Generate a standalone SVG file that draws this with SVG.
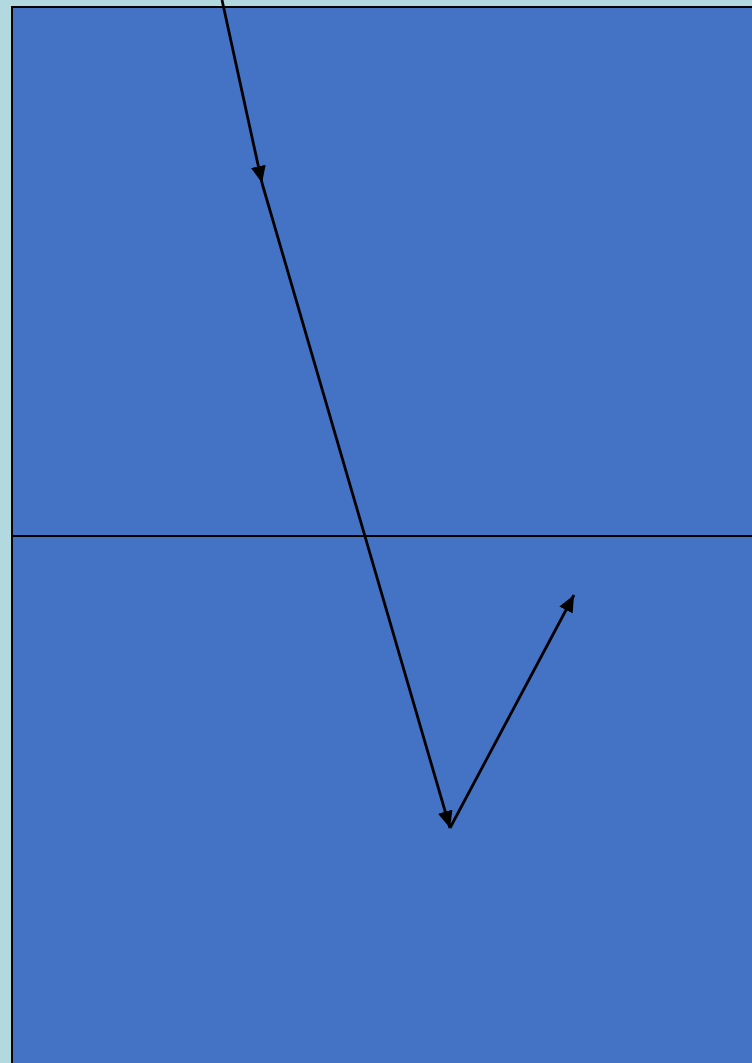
<svg xmlns="http://www.w3.org/2000/svg" width="752" height="1063" viewBox="0 0 752 1063">
<defs>
<marker id="ah2" viewBox="0 0 17 15" refX="17" refY="7.5" markerWidth="17" markerHeight="15" orient="auto" markerUnits="userSpaceOnUse">
<path d="M0,0 L17,7.5 L0,15 z" fill="#000"/>
</marker>
</defs>
<rect x="0" y="0" width="752" height="1063" fill="#b3d9e0"/>
<g id="medium">
<rect x="12" y="7" width="760" height="1080" fill="#4472c4" stroke="#000" stroke-width="2"/>
<line x1="12" y1="536" x2="752" y2="536" stroke="#000" stroke-width="2"/>
</g>
<g id="connectors">
<line x1="222" y1="0" x2="262" y2="183" stroke="#000" stroke-width="2.8" marker-end="url(#ah2)"/>
<line x1="262" y1="183" x2="450" y2="828" stroke="#000" stroke-width="2.8" marker-end="url(#ah2)"/>
<line x1="450" y1="828" x2="574" y2="595" stroke="#000" stroke-width="2.8" marker-end="url(#ah2)"/>
</g>
</svg>
